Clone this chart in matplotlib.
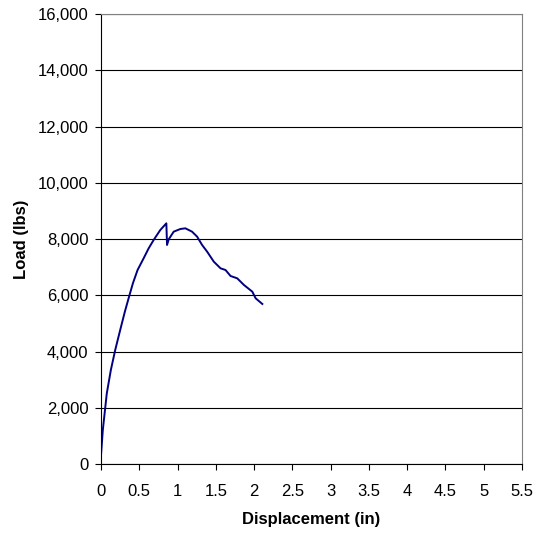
import matplotlib.pyplot as plt
from matplotlib.ticker import FuncFormatter

# Load-displacement curve
disp = [0.0, 0.024, 0.076, 0.129, 0.186, 0.251, 0.312, 0.373, 0.417, 0.478,
        0.557, 0.623, 0.688, 0.775, 0.854, 0.863, 0.885, 0.950, 1.038, 1.103,
        1.190, 1.256, 1.321, 1.387, 1.474, 1.562, 1.627, 1.693, 1.780, 1.868,
        1.977, 2.021, 2.108]
load = [300, 1209, 2513, 3343, 4054, 4765, 5417, 6009, 6425, 6898,
        7313, 7669, 7965, 8321, 8558, 7788, 7989, 8261, 8357, 8380,
        8261, 8084, 7788, 7550, 7194, 6958, 6898, 6685, 6602, 6365,
        6128, 5891, 5690]

x_ticks = [0, 0.5, 1, 1.5, 2, 2.5, 3, 3.5, 4, 4.5, 5, 5.5]
y_ticks = [0, 2000, 4000, 6000, 8000, 10000, 12000, 14000, 16000]

plt.rcParams['font.family'] = ['Liberation Sans', 'DejaVu Sans']

fig = plt.figure(figsize=(5.4, 5.35), dpi=100)
ax = fig.add_axes([0.1870, 0.1327, 0.7796, 0.8411])

ax.plot(disp, load, color="#000080", linewidth=1.4)

ax.set_xlim(0, 5.5)
ax.set_ylim(0, 16000)
ax.set_xticks(x_ticks)
ax.set_xticklabels([f"{t:g}" for t in x_ticks])
ax.set_yticks(y_ticks)
ax.yaxis.set_major_formatter(FuncFormatter(lambda v, p: f"{int(v):,}"))
ax.grid(axis="y", color="black", linewidth=0.8)
ax.set_axisbelow(True)

for side in ["top", "right"]:
    ax.spines[side].set_color("#808080")
for side in ["left", "bottom"]:
    ax.spines[side].set_color("black")
ax.tick_params(direction="out", length=4, labelsize=12, width=0.8)
ax.tick_params(axis="x", pad=10.5)
ax.tick_params(axis="y", pad=5)

ax.set_xlabel("Displacement (in)", fontsize=12, fontweight="bold", labelpad=9)
ax.set_ylabel("Load (lbs)", fontsize=12, fontweight="bold", labelpad=6)

plt.savefig("out.png", dpi=100)
